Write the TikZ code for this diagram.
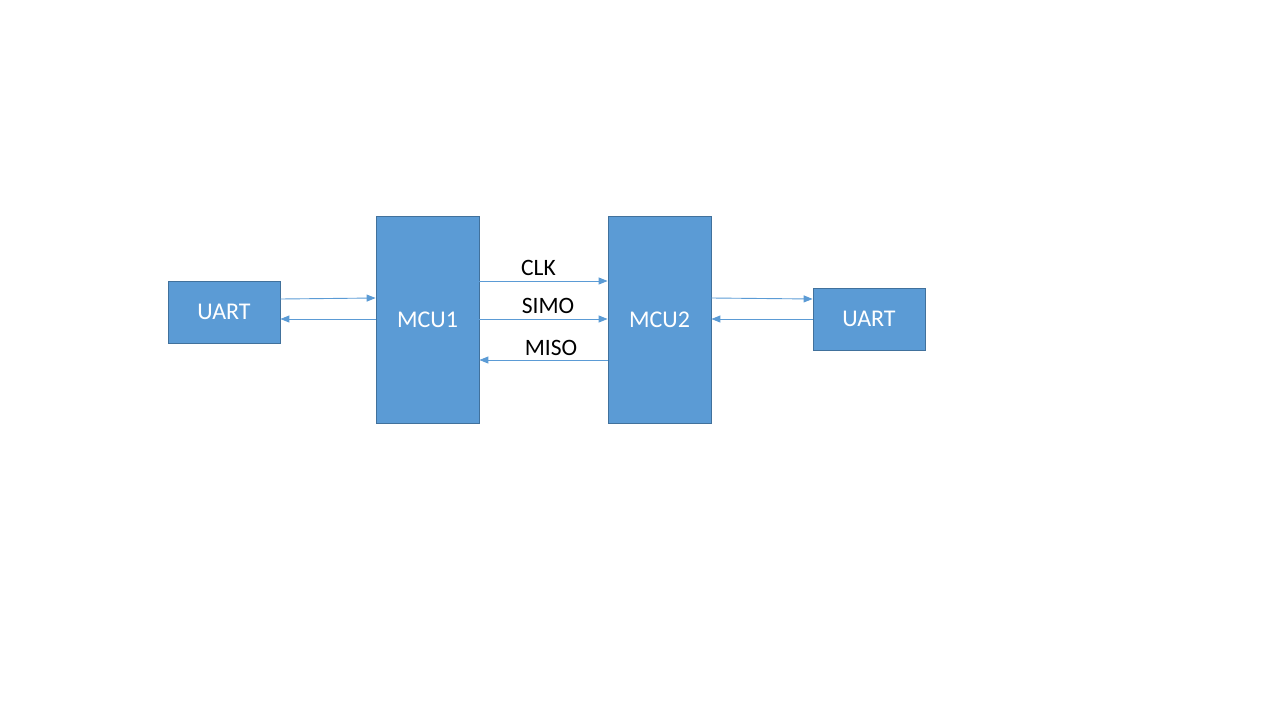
\documentclass[tikz,border=0pt]{standalone}
\usepackage{fontspec}
\setmainfont{Carlito}
\usetikzlibrary{arrows.meta}
\definecolor{boxfill}{HTML}{5B9BD5}
\definecolor{boxline}{HTML}{41719C}
\begin{document}
\begin{tikzpicture}[x=1pt,y=-1pt,
  blk/.style={draw=boxline,fill=boxfill,line width=0.8pt,inner sep=0pt,text=white,font=\fontsize{24}{28}\selectfont},
  arr/.style={draw=boxfill,line width=0.9pt,-{Triangle[length=9pt,width=7pt]}},
  lbl/.style={font=\fontsize{23.5}{27}\selectfont,text=black,inner sep=0pt}]
\useasboundingbox (0,0) rectangle (1280,720);
\node[blk,minimum width=112pt,minimum height=62pt] (u1) at (224,312) {UART};
\node[blk,minimum width=103pt,minimum height=207pt] (m1) at (427.5,319.5) {MCU1};
\node[blk,minimum width=103pt,minimum height=207pt] (m2) at (659.5,319.5) {MCU2};
\node[blk,minimum width=112pt,minimum height=62pt] (u2) at (869,319) {UART};
\draw[arr] (u1.east |- 0,299) -- (m1.west |- 0,298);
\draw[arr] (m1.west |- 0,319) -- (u1.east |- 0,319);
\draw[arr] (m1.east |- 0,281) -- (m2.west |- 0,281);
\draw[arr] (m1.east |- 0,319) -- (m2.west |- 0,319);
\draw[arr] (m2.west |- 0,360) -- (m1.east |- 0,360);
\draw[arr] (m2.east |- 0,298) -- (u2.west |- 0,299);
\draw[arr] (u2.west |- 0,319) -- (m2.east |- 0,319);
\node[lbl] (clk) at (538.5,268) {CLK};
\node[lbl] (simo) at (548,306) {SIMO};
\node[lbl] (miso) at (551,348) {MISO};
\end{tikzpicture}
\end{document}
